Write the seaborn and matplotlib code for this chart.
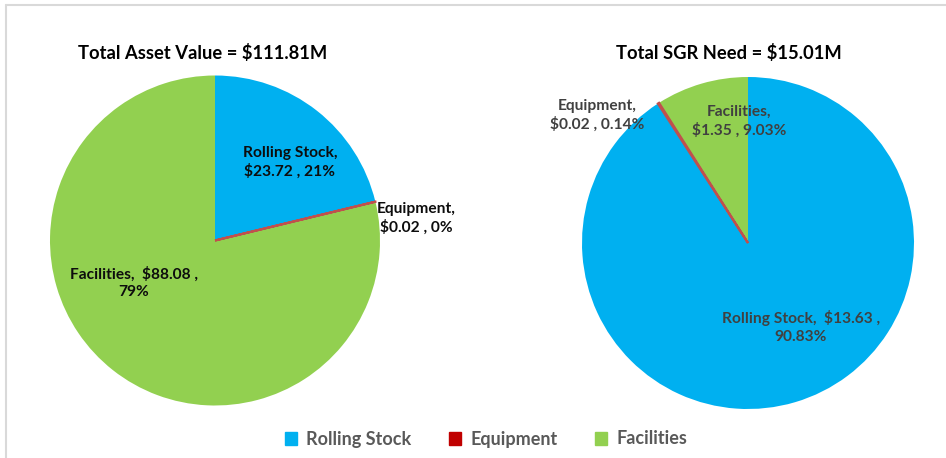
import matplotlib
matplotlib.use("Agg")
import matplotlib.pyplot as plt
import seaborn as sns

sns.set_theme(style="white")
plt.rcParams["font.family"] = ["Lato", "DejaVu Sans"]
plt.rcParams["text.parse_math"] = False

categories = ["Rolling Stock", "Equipment", "Facilities"]
asset_values = [23.72, 0.02, 88.08]
asset_pct = ["21%", "0%", "79%"]
sgr_values = [13.63, 0.02, 1.35]
sgr_pct = ["90.83%", "0.14%", "9.03%"]
asset_title = "Total Asset Value = $111.81M"
sgr_title = "Total SGR Need = $15.01M"

palette = sns.color_palette(["#00B0F0", "#C00000", "#92D050"])
edge_red = "#C0504D"

W, H = 946, 458
fig = plt.figure(figsize=(W / 100, H / 100), dpi=100)
fig.patch.set_facecolor("white")

# chart-area frame (top and left edges)
fig.add_artist(plt.Line2D([5.5 / W, 1], [1 - 4.5 / H, 1 - 4.5 / H], color="#D9D9D9", lw=1.5))
fig.add_artist(plt.Line2D([5.5 / W, 5.5 / W], [0, 1 - 4.5 / H], color="#D9D9D9", lw=1.5))


def pie_axes(cx, cy, r):
    return fig.add_axes([(cx - r) / W, (H - cy - r) / H, 2 * r / W, 2 * r / H])


def draw_pie(ax, values):
    wedges, _ = ax.pie(values, colors=palette, startangle=90, counterclock=False,
                       radius=1, wedgeprops=dict(linewidth=0))
    wedges[1].set_edgecolor(edge_red)
    wedges[1].set_linewidth(1.6)
    wedges[1].set_zorder(3)
    ax.set_xlim(-1, 1)
    ax.set_ylim(-1, 1)
    ax.set_aspect("equal")
    ax.axis("off")
    return wedges


def px(ax_cx, ax_cy, r, x, y):
    # convert pixel position to pie data coordinates
    return (x - ax_cx) / r, (ax_cy - y) / r


label_kw = dict(fontsize=11.2, fontweight="bold", ha="center", va="center", linespacing=1.3)

# Left pie: asset value
lcx, lcy, lr = 215, 240.5, 165
axl = pie_axes(lcx, lcy, lr)
draw_pie(axl, asset_values)
fig.text(203 / W, 1 - 53 / H, asset_title, fontsize=13.2, fontweight="bold",
         ha="center", va="center", color="black")
x, y = px(lcx, lcy, lr, 290, 162)
axl.text(x, y, f"{categories[0]},\n${asset_values[0]:.2f} , {asset_pct[0]}", color="#0D0D0D", **label_kw)
x, y = px(lcx, lcy, lr, 416, 218)
axl.text(x, y, f"{categories[1]},\n${asset_values[1]:.2f} , {asset_pct[1]}", color="#0D0D0D", **label_kw)
x, y = px(lcx, lcy, lr, 134, 283)
axl.text(x, y, f"{categories[2]},  ${asset_values[2]:.2f} ,\n{asset_pct[2]}", color="#0D0D0D", **label_kw)

# Right pie: SGR need
rcx, rcy, rr = 748, 243, 166
axr = pie_axes(rcx, rcy, rr)
draw_pie(axr, sgr_values)
fig.text(729 / W, 1 - 53 / H, sgr_title, fontsize=13.2, fontweight="bold",
         ha="center", va="center", color="black")
x, y = px(rcx, rcy, rr, 597, 115)
axr.text(x, y, f"{categories[1]},\n${sgr_values[1]:.2f} , {sgr_pct[1]}", color="#404040", **label_kw)
x, y = px(rcx, rcy, rr, 739, 121)
axr.text(x, y, f"{categories[2]},\n${sgr_values[2]:.2f} , {sgr_pct[2]}", color="#404040", **label_kw)
x, y = px(rcx, rcy, rr, 801, 327)
axr.text(x, y, f"{categories[0]},  ${sgr_values[0]:.2f} ,\n{sgr_pct[0]}", color="#404040", **label_kw)

# Legend
handles = [plt.Rectangle((0, 0), 1, 1, color=c) for c in palette]
leg = fig.legend(handles, categories, loc="center", bbox_to_anchor=(486 / W, 1 - 439 / H),
                 ncol=3, frameon=False, handlelength=0.7, handleheight=0.7,
                 handletextpad=0.5, columnspacing=2.05,
                 prop=dict(family=["Lato", "DejaVu Sans"], weight="bold", size=13))
for t in leg.get_texts():
    t.set_color("#595959")

fig.savefig("out.png", dpi=100, facecolor="white")
